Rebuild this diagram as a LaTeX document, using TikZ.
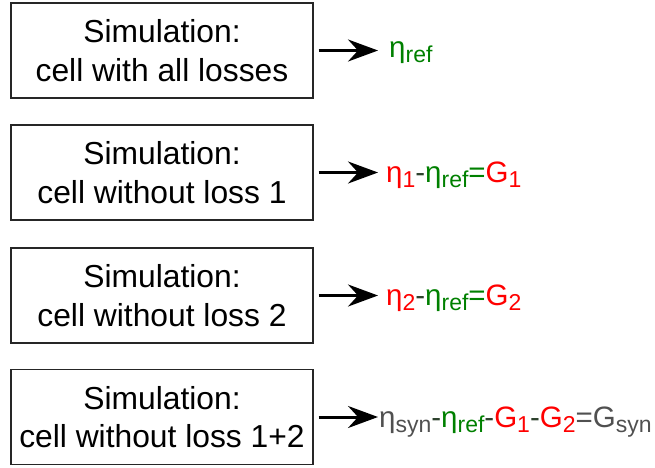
\documentclass[tikz,border=0pt]{standalone}
\usepackage{fontspec}
\setmainfont{Liberation Sans}
\usetikzlibrary{arrows.meta}
\definecolor{myred}{RGB}{255,0,0}
\definecolor{mygreen}{RGB}{0,128,0}
\definecolor{mygray}{RGB}{80,80,80}
\definecolor{myop}{RGB}{45,65,45}
\newcommand{\sbs}[1]{\raisebox{-5.5pt}{\fontsize{23}{23}\selectfont #1}}
\begin{document}
\begin{tikzpicture}[x=1pt,y=-1pt,
  simbox/.style={draw=black!85, line width=1.2pt, minimum width=302pt, minimum height=95pt,
    inner sep=0pt, align=center, font=\fontsize{31.8}{38.5}\selectfont},
  res/.style={anchor=base west, inner sep=0pt, font=\fontsize{29.5}{32}\selectfont},
  arr/.style={-{Stealth[length=30pt,width=22pt,inset=10pt]}, line width=3pt}]
\useasboundingbox (0,0) rectangle (655,467);
\node[simbox] (b1) at (162,50.5) {Simulation:\\cell with all losses};
\node[simbox] (b2) at (162,172.5) {Simulation:\\cell without loss 1};
\node[simbox] (b3) at (162,295.5) {Simulation:\\cell without loss 2};
\node[simbox] (b4) at (162,417) {Simulation:\\cell without loss 1+2};
\node[res] (r1) at (389,57) {\textcolor{mygreen}{η\sbs{ref}}};
\node[res] (r2) at (386,182) {\textcolor{myred}{η\sbs{1}}\textcolor{myop}{-}\textcolor{mygreen}{η\sbs{ref}=}\textcolor{myred}{G\sbs{1}}};
\node[res] (r3) at (386,305) {\textcolor{myred}{η\sbs{2}}\textcolor{myop}{-}\textcolor{mygreen}{η\sbs{ref}=}\textcolor{myred}{G\sbs{2}}};
\node[res] (r4) at (379,427) {\textcolor{mygray}{η\sbs{syn}}\textcolor{myop}{-}\textcolor{mygreen}{η\sbs{ref}}\textcolor{myop}{-}\textcolor{myred}{G\sbs{1}}\textcolor{myop}{-}\textcolor{myred}{G\sbs{2}}\textcolor{mygray}{=G\sbs{syn}}};
\draw[arr, shorten <=5pt, shorten >=11pt] (b1.east) -- (b1.east -| r1.west);
\draw[arr, shorten <=5pt, shorten >=8pt] (b2.east) -- (b2.east -| r2.west);
\draw[arr, shorten <=5pt, shorten >=8pt] (b3.east) -- (b3.east -| r3.west);
\draw[arr, shorten <=5pt, shorten >=1pt] (b4.east) -- (b4.east -| r4.west);
\end{tikzpicture}
\end{document}
